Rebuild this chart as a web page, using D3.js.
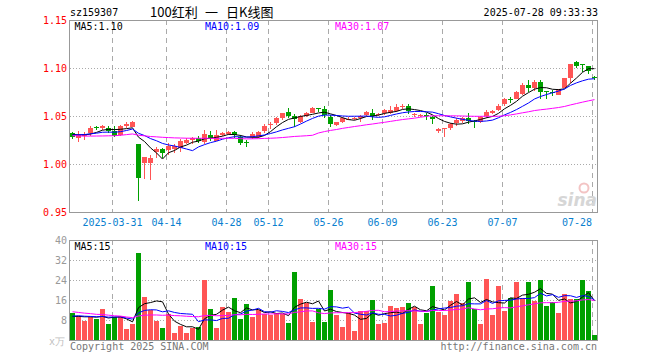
<!DOCTYPE html>
<html>
<head>
<meta charset="utf-8">
<script src="https://cdn.jsdelivr.net/npm/d3@7"></script>
<style>
body { margin: 0; background: #fff; }
svg text { font-family: "DejaVu Sans Mono", monospace; font-size: 10px; }
</style>
</head>
<body>
<div id="chart"></div>
<script>
'use strict';

// trading days 2025-03-20 .. 2025-07-28
var dates = [
    '03-20', '03-21', '03-24', '03-25', '03-26', '03-27', '03-28', '03-31',
    '04-01', '04-02', '04-03', '04-07', '04-08', '04-09', '04-10', '04-11',
    '04-14', '04-15', '04-16', '04-17', '04-18', '04-21', '04-22', '04-23', '04-24', '04-25',
    '04-28', '04-29', '04-30', '05-06', '05-07', '05-08', '05-09',
    '05-12', '05-13', '05-14', '05-15', '05-16', '05-19', '05-20', '05-21', '05-22', '05-23',
    '05-26', '05-27', '05-28', '05-29', '05-30', '06-03', '06-04', '06-05', '06-06',
    '06-09', '06-10', '06-11', '06-12', '06-13', '06-16', '06-17', '06-18', '06-19', '06-20',
    '06-23', '06-24', '06-25', '06-26', '06-27', '06-30', '07-01', '07-02', '07-03', '07-04',
    '07-07', '07-08', '07-09', '07-10', '07-11', '07-14', '07-15', '07-16', '07-17', '07-18',
    '07-21', '07-22', '07-23', '07-24', '07-25', '07-28'
];

var open = [
    1.032, 1.027, 1.029, 1.032, 1.039, 1.0375, 1.0378, 1.0345, 1.030, 1.0398,
    1.0389, 1.0205, 1.0014, 1.0014, 1.0122, 1.0153, 1.0146, 1.0156, 1.017, 1.0222,
    1.025, 1.0268, 1.0232, 1.030, 1.0243, 1.0299, 1.0313, 1.0336, 1.0284, 1.0228,
    1.0278, 1.0284, 1.0344, 1.0403, 1.043, 1.0476, 1.0545, 1.0503, 1.044, 1.050,
    1.0535, 1.058, 1.0573, 1.0493, 1.0406, 1.044, 1.0462, 1.0466, 1.0482, 1.051,
    1.0528, 1.0514, 1.0528, 1.0531, 1.0555, 1.0594, 1.0604, 1.0507, 1.0507, 1.0514,
    1.0493, 1.0347, 1.0362, 1.0372, 1.0424, 1.0451, 1.048, 1.0445, 1.044, 1.0503,
    1.0528, 1.0562, 1.0628, 1.0677, 1.0674, 1.0729, 1.0823, 1.0788, 1.0854, 1.0757,
    1.0753, 1.0722, 1.0792, 1.0895, 1.1064, 1.1042, 1.1019, 1.0906
];
var high = [
    1.033, 1.034, 1.033, 1.0395, 1.040, 1.0405, 1.0396, 1.0396, 1.041, 1.0438,
    1.0448, 1.0205, 1.0075, 1.0094, 1.018, 1.0163, 1.022, 1.021, 1.0264, 1.027,
    1.028, 1.0288, 1.0356, 1.0344, 1.0356, 1.0337, 1.0347, 1.0347, 1.0302, 1.025,
    1.0337, 1.0343, 1.0413, 1.0441, 1.049, 1.0535, 1.058, 1.0524, 1.0514, 1.0545,
    1.0594, 1.0583, 1.0604, 1.051, 1.0441, 1.049, 1.049, 1.0486, 1.0514, 1.055,
    1.0573, 1.0535, 1.0573, 1.0608, 1.0625, 1.0625, 1.0625, 1.0531, 1.052, 1.0528,
    1.0503, 1.0375, 1.038, 1.0424, 1.0476, 1.049, 1.0535, 1.0462, 1.050, 1.0562,
    1.0566, 1.063, 1.0684, 1.0698, 1.0764, 1.0845, 1.0875, 1.0875, 1.0875, 1.0764,
    1.0771, 1.0785, 1.0899, 1.1045, 1.1077, 1.1046, 1.1024, 1.0917
];
var low = [
    1.026, 1.0225, 1.0245, 1.0295, 1.0355, 1.0355, 1.032, 1.0285, 1.029, 1.0372,
    1.0383, 0.9618, 0.984, 0.983, 1.006, 1.0066, 1.0094, 1.0115, 1.0125, 1.021,
    1.021, 1.0222, 1.021, 1.024, 1.0243, 1.0289, 1.0298, 1.027, 1.0195, 1.0174,
    1.0257, 1.0275, 1.032, 1.0368, 1.0406, 1.0455, 1.0479, 1.0389, 1.043, 1.0486,
    1.0528, 1.0538, 1.0476, 1.0382, 1.0399, 1.0426, 1.0455, 1.0455, 1.0441, 1.050,
    1.0462, 1.0496, 1.0514, 1.052, 1.0545, 1.0573, 1.0521, 1.049, 1.049, 1.0458,
    1.0417, 1.0326, 1.0285, 1.0355, 1.040, 1.043, 1.0417, 1.0375, 1.0424, 1.0476,
    1.0521, 1.0555, 1.0604, 1.0635, 1.0674, 1.0722, 1.0747, 1.0757, 1.0677, 1.068,
    1.0705, 1.0715, 1.0788, 1.0847, 1.100, 1.0963, 1.0935, 1.087
];
var close = [
    1.028, 1.030, 1.031, 1.0375, 1.038, 1.0396, 1.0345, 1.0295, 1.0392, 1.0415,
    1.0438, 0.9857, 1.007, 1.006, 1.0153, 1.0118, 1.0185, 1.0188, 1.0243, 1.025,
    1.0268, 1.0243, 1.031, 1.0268, 1.0302, 1.0326, 1.0336, 1.0302, 1.0222, 1.0222,
    1.0309, 1.0336, 1.0399, 1.0420, 1.0476, 1.0528, 1.0503, 1.0470, 1.050, 1.0528,
    1.0587, 1.0573, 1.051, 1.0414, 1.0441, 1.0476, 1.0472, 1.0476, 1.0503, 1.0545,
    1.050, 1.0524, 1.0562, 1.0562, 1.059, 1.0604, 1.0555, 1.0524, 1.051, 1.0507,
    1.0465, 1.036, 1.0375, 1.0417, 1.0458, 1.0482, 1.0448, 1.0438, 1.0493, 1.0545,
    1.0555, 1.0607, 1.0675, 1.0672, 1.0753, 1.0823, 1.0795, 1.0854, 1.0753, 1.0747,
    1.0743, 1.0778, 1.0895, 1.1045, 1.1018, 1.1038, 1.0965, 1.090
];
// volume, x 10k
var volume = [
    10.9, 9.6, 7.7, 9.1, 8.4, 12.4, 6.4, 9.3, 9.7, 4.4,
    6.5, 34.8, 17.2, 12.0, 7.6, 4.8, 10.4, 2.8, 5.6, 2.8,
    4.9, 5.2, 24.0, 12.4, 4.9, 13.2, 11.2, 16.8, 8.5, 14.4,
    9.3, 12.1, 10.5, 10.2, 10.8, 10.4, 6.8, 27.2, 16.5, 14.7,
    7.2, 12.4, 7.2, 20.1, 10.0, 5.3, 10.7, 3.7, 11.7, 11.7,
    16.0, 6.4, 6.9, 13.6, 12.9, 13.2, 14.8, 13.1, 6.4, 10.9,
    21.6, 11.3, 10.0, 15.7, 18.4, 14.7, 23.2, 12.3, 6.4, 24.4,
    10.0, 21.6, 11.6, 16.7, 23.2, 16.7, 23.2, 15.7, 24.0, 13.6,
    15.2, 10.8, 18.4, 16.3, 16.4, 24.0, 19.7, 2.0
];
// 29 sessions before 03-20 (off the chart), estimated from where the MA lines start
var prevClose = [
    1.036, 1.038, 1.037, 1.036, 1.038, 1.030, 1.027, 1.024, 1.022, 1.023,
    1.025, 1.026, 1.027, 1.026, 1.0264, 1.027, 1.028, 1.029, 1.030, 1.028,
    1.027, 1.029, 1.030, 1.031, 1.030, 1.0329, 1.031, 1.033, 1.0297
];
var prevVolume = [
    18, 16, 15, 17, 14, 15, 16, 14, 15, 14,
    15.3, 8, 9, 7.5, 8.5, 8, 9, 7.8, 8.5, 8,
    8, 9.5, 10, 9.8, 11, 9.4, 8.6, 9, 9.2
];

var tickDates = ['03-31', '04-14', '04-28', '05-12', '05-26', '06-09', '06-23', '07-07', '07-28'];
var tickLabels = ['2025-03-31', '04-14', '04-28', '05-12', '05-26', '06-09', '06-23', '07-07', '07-28'];
var priceTicks = [0.95, 1.00, 1.05, 1.10, 1.15];
var volTicks = [8, 16, 24, 32, 40];
var priceLegend = ['MA5:1.10', 'MA10:1.09', 'MA30:1.07'];
var volLegend = ['MA5:15', 'MA10:15', 'MA30:15'];
var titleParts = ['100红利', '一', '日K线图'];

var left = 70, right = 597,
    pTop = 20, pBottom = 212,
    vTop = 240, vBottom = 340,
    red = '#ff5555', green = '#00a000',
    maColors = ['#000000', '#0000ff', '#ff00ff'],
    legendX = [74.5, 205, 335],
    titleX = [150, 205, 226];

var svg = d3.select('#chart').append('svg').attr('width', 660).attr('height', 360);

var x = d3.scaleBand().domain(dates).range([left, right]).paddingInner(1 / 6).paddingOuter(0),
    y = d3.scaleLinear().domain([0.95, 1.15]).range([pBottom, pTop]),
    yv = d3.scaleLinear().domain([0, 40]).range([vBottom, vTop]);

function movingAverage(series, prev, n) {
    var all = prev.concat(series);
    return series.map(function (d, i) {
        var j = i + prev.length;
        return d3.mean(all.slice(j - n + 1, j + 1));
    });
}

var bars = dates.map(function (d, i) {
    return { date: d, o: open[i], h: high[i], l: low[i], c: close[i], v: volume[i], up: close[i] >= open[i] };
});

function cx(d) { return x(d) + x.bandwidth() / 2; }

// header
svg.append('text').attr('x', 70).attr('y', 16).text('sz159307');
svg.append('g').selectAll('text').data(titleParts).enter().append('text')
    .attr('x', function (d, i) { return titleX[i]; })
    .attr('y', 17)
    .style('font-family', '"Noto Sans CJK SC", sans-serif').style('font-size', '13px')
    .text(function (d) { return d; });
svg.append('text').attr('x', 598).attr('y', 16).attr('text-anchor', 'end').text('2025-07-28 09:33:33');

// grids + frames
function panelGrid(top, bottom, lines, scale) {
    svg.append('g').selectAll('line').data(lines).enter().append('line')
        .attr('x1', left).attr('x2', right)
        .attr('y1', function (d) { return Math.round(scale(d)) + 0.5; })
        .attr('y2', function (d) { return Math.round(scale(d)) + 0.5; })
        .attr('stroke', '#aaa').attr('stroke-dasharray', '1,2');
    svg.append('g').selectAll('line').data(tickDates).enter().append('line')
        .attr('x1', function (d) { return x(d) + 0.5; })
        .attr('x2', function (d) { return x(d) + 0.5; })
        .attr('y1', top).attr('y2', bottom)
        .attr('stroke', '#aaa').attr('stroke-dasharray', '5,4');
    svg.append('rect').attr('x', left - 0.5).attr('y', top + 0.5)
        .attr('width', right - left + 1).attr('height', bottom - top)
        .attr('fill', 'none').attr('stroke', '#999');
}
panelGrid(pTop, pBottom, [1.00, 1.05, 1.10], y);
panelGrid(vTop, vBottom, [8, 16, 24, 32], yv);

// y axes
svg.append('g').attr('transform', 'translate(67,0)')
    .call(d3.axisLeft(y).tickValues(priceTicks).tickSize(0).tickPadding(0).tickFormat(d3.format('.2f')))
    .call(function (g) { g.select('.domain').remove(); })
    .selectAll('text').attr('fill', '#ff0000').style('font-family', '"DejaVu Sans Mono", monospace').style('font-size', '10px');
svg.append('g').attr('transform', 'translate(67,0)')
    .call(d3.axisLeft(yv).tickValues(volTicks).tickSize(0).tickPadding(0))
    .call(function (g) { g.select('.domain').remove(); })
    .selectAll('text').attr('fill', '#999').style('font-family', '"DejaVu Sans Mono", monospace').style('font-size', '10px');

// date labels
svg.append('g').selectAll('text').data(tickDates).enter().append('text')
    .attr('x', function (d, i) { return i === tickDates.length - 1 ? x(d) : x(d) + 0.5; })
    .attr('y', 225.5)
    .attr('text-anchor', function (d, i) { return i === tickDates.length - 1 ? 'end' : 'middle'; })
    .attr('fill', '#0a7fcf')
    .text(function (d, i) { return tickLabels[i]; });

// watermark
svg.append('circle').attr('cx', 584).attr('cy', 188).attr('r', 4.5).attr('fill', 'none').attr('stroke', '#f3c4c4').attr('stroke-width', 2);
svg.append('text').attr('x', 597).attr('y', 206).attr('text-anchor', 'end')
    .style('font-family', '"DejaVu Sans", sans-serif').style('font-size', '17px')
    .style('font-weight', 'bold').style('font-style', 'italic').attr('fill', '#d6d6d6').text('sina');

// candles
var candle = svg.append('g').attr('shape-rendering', 'crispEdges');
candle.selectAll('.wick').data(bars).enter().append('rect')
    .attr('x', function (d) { return Math.floor(cx(d.date)); })
    .attr('width', 1)
    .attr('y', function (d) { return Math.round(y(d.h)); })
    .attr('height', function (d) { return Math.max(1, Math.round(y(d.l)) - Math.round(y(d.h))); })
    .attr('fill', function (d) { return d.up ? red : green; });
candle.selectAll('.body').data(bars).enter().append('rect')
    .attr('x', function (d) { return x(d.date); })
    .attr('width', x.bandwidth())
    .attr('y', function (d) { return Math.round(y(Math.max(d.o, d.c))); })
    .attr('height', function (d) { return Math.max(1, Math.round(y(Math.min(d.o, d.c))) - Math.round(y(Math.max(d.o, d.c)))); })
    .attr('fill', function (d) { return d.up ? red : green; });

// volume bars
svg.append('g').attr('shape-rendering', 'crispEdges').selectAll('rect').data(bars).enter().append('rect')
    .attr('x', function (d) { return x(d.date); })
    .attr('width', x.bandwidth())
    .attr('y', function (d) { return Math.round(yv(d.v)); })
    .attr('height', function (d) { return vBottom - Math.round(yv(d.v)); })
    .attr('fill', function (d) { return d.up ? red : green; });

// moving averages
function drawMA(series, prev, scale) {
    [5, 10, 30].forEach(function (n, k) {
        var ma = movingAverage(series, prev, n);
        svg.append('path').datum(ma)
            .attr('fill', 'none').attr('stroke', maColors[k]).attr('stroke-width', 1)
            .attr('d', d3.line()
                .x(function (d, i) { return cx(dates[i]); })
                .y(function (d) { return scale(d); }));
    });
}
drawMA(close, prevClose, y);
drawMA(volume, prevVolume, yv);

// legends
function legend(labels, yPos) {
    svg.append('g').selectAll('text').data(labels).enter().append('text')
        .attr('x', function (d, i) { return legendX[i]; })
        .attr('y', yPos)
        .attr('fill', function (d, i) { return maColors[i]; })
        .text(function (d) { return d; });
}
legend(priceLegend, 29.5);
legend(volLegend, 249.5);

// footer
svg.append('text').attr('x', 49).attr('y', 345).attr('fill', '#c0c0c0').text('x万');
svg.append('text').attr('x', 70).attr('y', 349.5).attr('fill', '#777').text('Copyright 2025 SINA.COM');
svg.append('text').attr('x', 597).attr('y', 349.5).attr('text-anchor', 'end').attr('fill', '#777').text('http://finance.sina.com.cn');
</script>
</body>
</html>
